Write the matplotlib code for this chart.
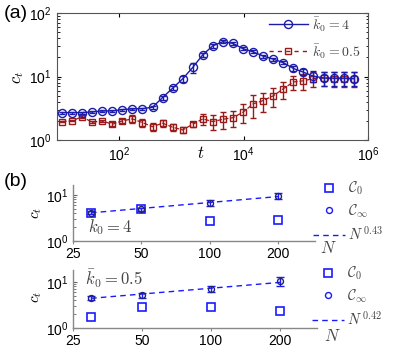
import numpy as np
import matplotlib
matplotlib.use("Agg")
import matplotlib.pyplot as plt
from matplotlib.lines import Line2D
from matplotlib.ticker import FixedLocator, LogLocator, NullLocator, FixedFormatter, NullFormatter

plt.rcParams['font.family'] = ['Liberation Sans', 'DejaVu Sans']
plt.rcParams['mathtext.fontset'] = 'cm'

# ---------------- data: panel (a) ----------------
t = np.logspace(1.08, 5.77, 30)
ct_k4 = [2.70, 2.70, 2.70, 2.77, 2.87, 2.87, 3.01, 3.09, 3.12, 3.28,
         4.66, 6.55, 9.2, 13.9, 22.0, 30.5, 35.3, 33.2, 27.4, 24.4,
         21.0, 18.8, 16.5, 13.4, 11.7, 10.1, 9.5, 9.4, 9.4, 9.3]
err_k4 = [0.1, 0.1, 0.1, 0.1, 0.1, 0.1, 0.1, 0.1, 0.1, 0.18,
          0.35, 0.5, 1.0, 2.6, 1.6, 2.3, 2.0, 1.8, 1.5, 1.3,
          1.2, 1.0, 0.9, 1.0, 1.3, 2.0, 2.3, 2.3, 2.3, 2.3]
ct_k05 = [1.95, 2.0, 2.33, 1.90, 2.0, 1.77, 2.0, 2.15, 1.88, 1.62,
          1.84, 1.59, 1.44, 1.77, 2.15, 1.95, 2.12, 2.25, 2.74, 3.7,
          4.18, 4.96, 6.4, 8.2, 8.55, 9.3, 9.4, 9.3, 9.3, 9.2]
err_k05 = [0.04, 0.04, 0.13, 0.07, 0.07, 0.13, 0.15, 0.3, 0.27, 0.23,
           0.26, 0.2, 0.15, 0.18, 0.45, 0.5, 0.62, 0.66, 0.92, 1.5,
           1.4, 1.65, 1.9, 2.1, 2.5, 2.4, 2.4, 2.4, 2.4, 2.4]

# ---------------- data: panel (b) ----------------
N = [30, 50, 100, 200]
c0_k4 = [4.1, 4.9, 2.76, 2.9]
cinf_k4 = [4.1, 4.96, 6.8, 9.66]
cinf_err_k4 = [0.3, 0.38, 1.1, 1.5]
c0_k05 = [1.73, 2.92, 2.86, 2.34]
cinf_k05 = [4.42, 5.14, 7.2, 10.4]
cinf_err_k05 = [0.45, 0.68, 1.15, 2.3]
exp_k4 = 0.43
exp_k05 = 0.42

blue = '#1c1caa'
red = '#9a1a1a'
bblue = '#1a1aff'
navy = '#23236e'
gray = '#444444'

fig = plt.figure(figsize=(4.15, 3.51), dpi=100)
W, H = 415.0, 351.0

def ax_px(x0, y0, x1, y1):
    return fig.add_axes([x0 / W, 1 - y1 / H, (x1 - x0) / W, (y1 - y0) / H])

# ---------------- panel (a) ----------------
ax = ax_px(57, 13, 368, 140)
ax.set_xscale('log')
ax.set_yscale('log')
ax.errorbar(t, ct_k4, yerr=err_k4, color=blue, marker='o', ms=5.8, mfc='none',
            mec=blue, mew=1.0, lw=1.0, capsize=2.5, elinewidth=1.0, zorder=3)
ax.errorbar(t, ct_k05, yerr=err_k05, color=red, marker='s', ms=4.5, mfc='none',
            mec=red, mew=1.0, lw=0.9, ls='--', capsize=2.5, elinewidth=1.0, zorder=2)
ax.set_xlim(10, 1e6)
ax.set_ylim(1, 100)
ax.xaxis.set_major_locator(FixedLocator([1e2, 1e4, 1e6]))
ax.xaxis.set_minor_locator(NullLocator())
ax.yaxis.set_major_locator(LogLocator(base=10))
ax.yaxis.set_minor_locator(LogLocator(base=10, subs=np.arange(2, 10)))
ax.yaxis.set_minor_formatter(NullFormatter())
ax.tick_params(which='both', direction='in', top=True, right=True, labelsize=10, pad=4)
ax.tick_params(which='major', length=3)
ax.tick_params(which='minor', length=1.8)
for s in ax.spines.values():
    s.set_color('#555555')
    s.set_linewidth(0.8)
h1 = Line2D([], [], color=blue, marker='o', ms=5.8, mfc='none', mec=blue, lw=1.0,
            label=r'$\bar{k}_0 = 4$')
h2 = Line2D([], [], color=red, marker='s', ms=4.5, mfc='none', mec=red, lw=1.0,
            ls=(0, (3, 3)), label=r'$\bar{k}_0 = 0.5$')
leg = ax.legend(handles=[h1, h2], loc='upper left', bbox_to_anchor=(0.675, 1.0),
                frameon=False, fontsize=10, handlelength=2.8, handletextpad=0.3,
                labelspacing=0.6, borderpad=0.15, borderaxespad=0)
for txt in leg.get_texts():
    txt.set_color(gray)
fig.text(18 / W, 1 - 77 / H, r'$c_t$', fontsize=12, rotation=90,
         ha='center', va='center')
fig.text(201 / W, 1 - 153 / H, r'$t$', fontsize=12, ha='center', va='center')
fig.text(4 / W, 1 - 14 / H, '(a)', fontsize=14, ha='left', va='center')
fig.text(4 / W, 1 - 181 / H, '(b)', fontsize=14, ha='left', va='center')

# ---------------- panel (b) ----------------
def bottom_panel(box, c0, cinf, cerr, expo, ktext, ktext_xy, ylabel_y, leg_anchor):
    a = ax_px(*box)
    a.set_xscale('log')
    a.set_yscale('log')
    Narr = np.array(N, dtype=float)
    amp = cinf[0] / Narr[0] ** expo
    a.plot(Narr, amp * Narr ** expo, ls=(0, (4, 3)), color=bblue, lw=1.0)
    a.plot(N, c0, ls='none', marker='s', ms=6, mfc='none', mec=bblue, mew=1.2)
    a.errorbar(N, cinf, yerr=cerr, ls='none', ecolor=bblue, elinewidth=1.0,
               capsize=3, capthick=1.0, marker='o', ms=4.3, mfc='none', mec=navy,
               mew=1.0)
    s = Line2D([], [], ls='none', marker='s', ms=6, mfc='none', mec=bblue, mew=1.2,
               label=r'$\mathcal{C}_0$')
    c = Line2D([], [], ls='none', marker='o', ms=4.3, mfc='none', mec=bblue, mew=1.0,
               label=r'$\mathcal{C}_\infty$')
    l = Line2D([], [], ls=(0, (4, 3)), color=bblue, lw=1.0,
               label=r'$N^{\,%.2f}$' % expo)
    a.set_xlim(25, 290)
    a.set_ylim(1, 10 ** ((box[3] - box[1]) / 46.0))
    a.xaxis.set_major_locator(FixedLocator([25, 50, 100, 200]))
    a.xaxis.set_major_formatter(FixedFormatter(['25', '50', '100', '200']))
    a.xaxis.set_minor_locator(NullLocator())
    a.yaxis.set_major_locator(FixedLocator([1, 10]))
    a.yaxis.set_minor_locator(LogLocator(base=10, subs=np.arange(2, 10)))
    a.yaxis.set_minor_formatter(NullFormatter())
    a.tick_params(axis='x', direction='out', length=2, labelsize=10, pad=2, color='#888888')
    a.tick_params(axis='y', which='both', direction='in', labelsize=10, color='#666666')
    a.tick_params(axis='y', which='major', length=3)
    a.tick_params(axis='y', which='minor', length=1.8)
    for side in ['top', 'right']:
        a.spines[side].set_visible(False)
    for side in ['left', 'bottom']:
        a.spines[side].set_color('#888888')
        a.spines[side].set_linewidth(1.0)
    lg = a.legend(handles=[s, c, l], loc='upper left', bbox_to_anchor=leg_anchor,
                  frameon=False, fontsize=10.5, handlelength=2.2, handletextpad=0.2,
                  labelspacing=0.35, borderpad=0, borderaxespad=0)
    for txt in lg.get_texts():
        txt.set_color(gray)
    a.text(ktext_xy[0], ktext_xy[1], ktext, transform=a.transAxes, fontsize=12,
           color=gray, ha='left', va='center')
    fig.text(37 / W, 1 - ylabel_y / H, r'$c_t$', fontsize=11, rotation=90,
             ha='center', va='center')
    return a

b1 = bottom_panel((73, 185, 315, 241), c0_k4, cinf_k4, cinf_err_k4, exp_k4,
                  r'$k_0 = 4$', (0.06, 0.25), 213, (0.99, 1.09))
b2 = bottom_panel((73, 270, 317, 328), c0_k05, cinf_k05, cinf_err_k05, exp_k05,
                  r'$\bar{k}_0 = 0.5$', (0.05, 0.85), 297, (0.98, 1.09))
fig.text(328 / W, 1 - 248 / H, r'$N$', fontsize=12, ha='center', va='center', color=gray)
fig.text(332 / W, 1 - 336 / H, r'$N$', fontsize=12, ha='center', va='center', color=gray)

fig.savefig('out.png', dpi=100)
